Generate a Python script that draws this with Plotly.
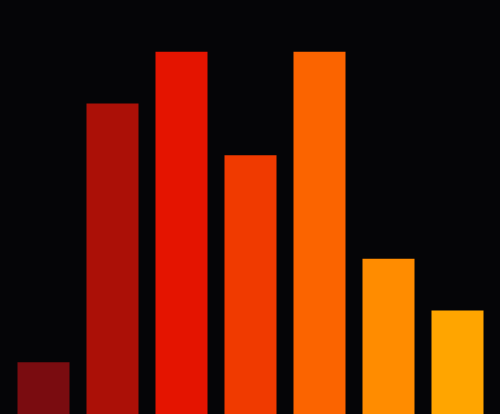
import plotly.graph_objects as go

categories = ["A", "B", "C", "D", "E", "F", "G"]
values = [1, 6, 7, 5, 7, 3, 2]
colors = ["#7a0c10", "#ab1007", "#e41400", "#f03a00", "#fb6400", "#ff8c00", "#ffa500"]

fig = go.Figure(go.Bar(x=categories, y=values, marker=dict(color=colors, line=dict(width=0))))
fig.update_layout(
    width=500, height=414,
    margin=dict(l=9, r=8, t=0, b=0),
    paper_bgcolor="#050507", plot_bgcolor="#050507",
    bargap=0.246, showlegend=False,
    xaxis=dict(visible=False),
    yaxis=dict(visible=False, range=[0, 8]),
)
fig.write_html(
    "out.html",
    config={"displayModeBar": False},
    post_script="document.body.style.margin='0';document.body.style.background='#050507';document.documentElement.style.background='#050507';",
)
